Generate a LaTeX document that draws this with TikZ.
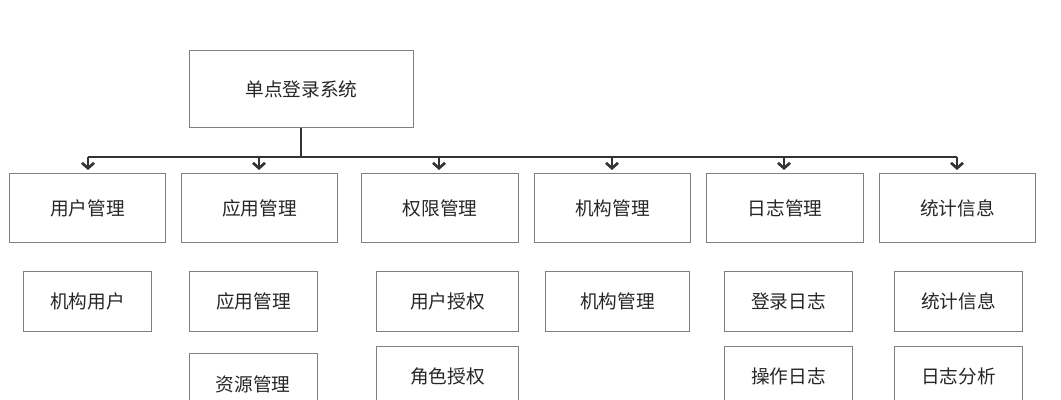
\documentclass[tikz,border=0pt]{standalone}
\usepackage{fontspec}
\setmainfont{Noto Sans CJK SC}
\usetikzlibrary{arrows.meta}
\begin{document}
\begin{tikzpicture}[x=0.75pt,y=-0.75pt,
  bx/.style={draw=black!50,line width=0.8pt,anchor=north west,align=center,inner sep=0pt,font=\fontsize{14}{16}\selectfont,text=black!85},
  con/.style={draw=black!80,line width=2pt,rounded corners=5pt},
  arr/.style={draw=black!80,line width=2pt,-{Straight Barb[length=4pt,width=9pt]}}]
\useasboundingbox (0,0) rectangle (1061,400);
\clip (0,0) rectangle (1061,400);
\newcommand{\bxx}[6]{\node[bx,minimum width=#3*0.75pt,minimum height=#4*0.75pt] (#5) at (#1,#2) {#6};}
\bxx{189}{50}{224}{77}{root}{单点登录系统}
\bxx{9}{173}{156}{69}{a}{用户管理}
\bxx{181}{173}{156}{69}{b}{应用管理}
\bxx{361}{173}{157}{69}{c}{权限管理}
\bxx{534}{173}{156}{69}{d}{机构管理}
\bxx{706}{173}{157}{69}{e}{日志管理}
\bxx{879}{173}{156}{69}{f}{统计信息}
\bxx{23}{271}{128}{60}{a1}{机构用户}
\bxx{189}{271}{128}{60}{b1}{应用管理}
\bxx{376}{271}{142}{60}{c1}{用户授权}
\bxx{545}{271}{144}{60}{d1}{机构管理}
\bxx{724}{271}{128}{60}{e1}{登录日志}
\bxx{894}{271}{128}{60}{f1}{统计信息}
\node[bx,minimum width=96pt,minimum height=60pt,text depth=-6pt] (b2) at (189,353) {};
\node[font=\fontsize{14}{16}\selectfont,text=black!85] at (253,384) {资源管理};
\bxx{376}{346}{142}{60}{c2}{角色授权}
\bxx{724}{346}{128}{60}{e2}{操作日志}
\bxx{894}{346}{128}{60}{f2}{日志分析}
\coordinate (j) at (301,157);
\coordinate (bl) at (88,157);
\coordinate (br) at (957,157);
\draw[con] (root.south -| j) -- (j);
\draw[con] (bl) -- (br);
\foreach \n/\xx in {a/88,b/259,c/439,d/612,e/784,f/957}{
  \draw[arr] (\xx,157) -- (\xx,170);
}
\end{tikzpicture}
\end{document}
